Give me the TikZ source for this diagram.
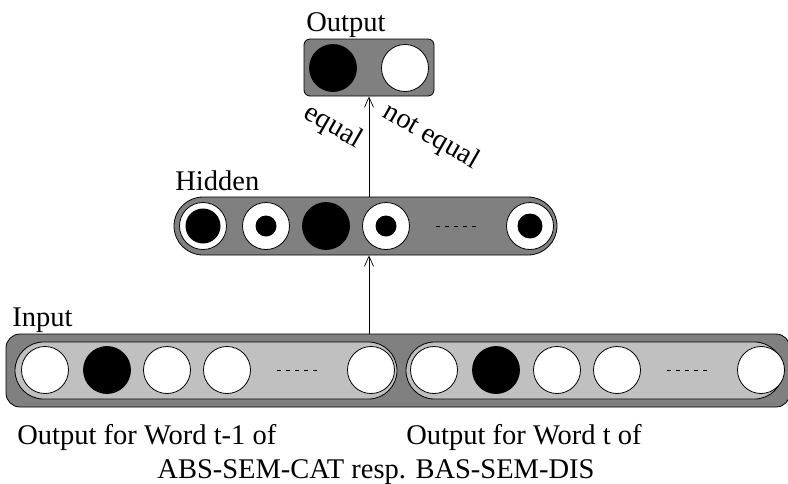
\documentclass[tikz,border=0pt]{standalone}
\usepackage{fontspec}
\setmainfont{Liberation Serif}
\usetikzlibrary{arrows.meta}
\definecolor{midgray}{HTML}{808080}
\definecolor{lightgray}{HTML}{C0C0C0}
\begin{document}
\begin{tikzpicture}[x=1pt,y=-1pt,line width=0.8pt,
  lbl/.style={inner sep=0pt,font=\fontsize{28.5}{34}\selectfont},
  unit/.style={circle,draw,fill=white,minimum size=47pt,inner sep=0pt},
  fullunit/.style={unit,fill=black},
  core/.style={circle,fill=black,inner sep=0pt,minimum size=#1},
  layer/.style={rectangle,draw,fill=midgray,inner sep=0pt},
  group/.style={rectangle,draw,fill=lightgray,inner sep=0pt,
    minimum width=#1,minimum height=57pt,rounded corners=28.5pt},
  gap/.style={dash pattern=on 4pt off 5pt,line width=0.7pt},
  link/.style={-{Straight Barb[length=10pt,width=9pt]},line width=0.7pt}]
\useasboundingbox (0,0) rectangle (788,483);

% output layer
\node[layer,rounded corners=6pt,minimum width=130pt,minimum height=57pt] (out) at (369,67.5) {};
\node[fullunit] (o1) at (333,68) {};
\node[unit] (o2) at (405,68) {};
\node[lbl,anchor=base west] (outlbl) at (306,31) {Output};

% hidden layer
\node[layer,rounded corners=29pt,minimum width=383pt,minimum height=58pt] (hid) at (365.5,226) {};
\node[unit] (h1) at (203,226) {};
\node[core=35pt] (h1c) at (h1) {};
\node[unit] (h2) at (266,226) {};
\node[core=21pt] (h2c) at (h2) {};
\node[fullunit] (h3) at (326,226) {};
\node[unit] (h4) at (386,226) {};
\node[core=21pt] (h4c) at (h4) {};
\node[unit] (h5) at (530,226) {};
\node[core=25pt] (h5c) at (h5) {};
\draw[gap] (436,226) -- (479,226);
\node[lbl,anchor=base west] (hidlbl) at (175,190) {Hidden};

% input layer: two word groups
\node[layer,rounded corners=14pt,minimum width=784pt,minimum height=73pt] (inp) at (398,370.5) {};
\node[group=382pt] (g1) at (206,370.5) {};
\node[group=377pt] (g2) at (594.5,370.5) {};
\foreach \x/\f [count=\i] in {45/white,107/black,167/white,227/white,371/white}
  \node[unit,fill=\f] (a\i) at (\x,370) {};
\foreach \x/\f [count=\i] in {434/white,496/black,557/white,617/white,761/white}
  \node[unit,fill=\f] (b\i) at (\x,370) {};
\draw[gap] (277,370) -- (320,370);
\draw[gap] (667,370) -- (710,370);
\node[lbl,anchor=base west] (inlbl) at (12,326) {Input};

% connections
\draw[link] (out.south |- inp.north) -- (out.south |- hid.south);
\draw[link] (out.south |- hid.north) -- (out.south);
\node[lbl,rotate=-30] (eq) at (333,127) {equal};
\node[lbl,rotate=-30] (neq) at (431,137) {not equal};

% captions
\node[lbl,anchor=base west] (cap1) at (17,444) {Output for Word t-1 of};
\node[lbl,anchor=base west] (cap2) at (406,444) {Output for Word t of};
\node[lbl,anchor=base] (cap3) at (376,478) {ABS-SEM-CAT resp. BAS-SEM-DIS};
\end{tikzpicture}
\end{document}
